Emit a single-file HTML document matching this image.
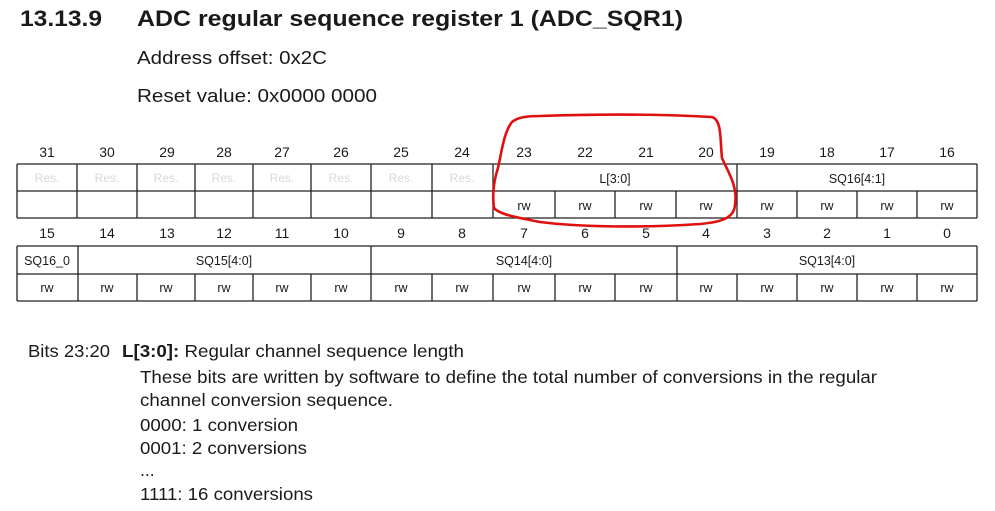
<!DOCTYPE html>
<html><head><meta charset="utf-8"><style>
html,body{margin:0;padding:0;background:#fff;width:995px;height:511px;overflow:hidden}
svg{display:block;font-family:"Liberation Sans",Arial,sans-serif}
</style></head><body>
<svg width="995" height="511" viewBox="0 0 995 511" xmlns="http://www.w3.org/2000/svg">
<g fill="#1a1a1a">
<text x="20" y="26" font-size="22" font-weight="bold" textLength="82" lengthAdjust="spacingAndGlyphs">13.13.9</text>
<text x="137" y="26" font-size="22" font-weight="bold" textLength="546" lengthAdjust="spacingAndGlyphs">ADC regular sequence register 1 (ADC_SQR1)</text>
<text x="137" y="64" font-size="18.5" textLength="190" lengthAdjust="spacingAndGlyphs">Address offset: 0x2C</text>
<text x="137" y="102" font-size="18.5" textLength="240" lengthAdjust="spacingAndGlyphs">Reset value: 0x0000 0000</text>
</g>
<g font-size="14" fill="#1a1a1a" text-anchor="middle">
<text x="47" y="157">31</text><text x="107" y="157">30</text><text x="167" y="157">29</text><text x="224" y="157">28</text>
<text x="282" y="157">27</text><text x="341" y="157">26</text><text x="401" y="157">25</text><text x="462" y="157">24</text>
<text x="524" y="157">23</text><text x="585" y="157">22</text><text x="646" y="157">21</text><text x="706" y="157">20</text>
<text x="767" y="157">19</text><text x="827" y="157">18</text><text x="887" y="157">17</text><text x="947" y="157">16</text>
<text x="47" y="238">15</text><text x="107" y="238">14</text><text x="167" y="238">13</text><text x="224" y="238">12</text>
<text x="282" y="238">11</text><text x="341" y="238">10</text><text x="401" y="238">9</text><text x="462" y="238">8</text>
<text x="524" y="238">7</text><text x="585" y="238">6</text><text x="646" y="238">5</text><text x="706" y="238">4</text>
<text x="767" y="238">3</text><text x="827" y="238">2</text><text x="887" y="238">1</text><text x="947" y="238">0</text>
</g>
<g stroke="#222" stroke-width="1.3" fill="none">
<line x1="17" y1="164" x2="977" y2="164"/><line x1="17" y1="191" x2="977" y2="191"/><line x1="17" y1="218" x2="977" y2="218"/>
<path d="M17 164V218M77 164V218M137 164V218M195 164V218M253 164V218M311 164V218M371 164V218M432 164V218M493 164V218M737 164V218M977 164V218"/>
<path d="M555 191V218M615 191V218M676 191V218M797 191V218M857 191V218M917 191V218"/>
<line x1="17" y1="246" x2="977" y2="246"/><line x1="17" y1="274" x2="977" y2="274"/><line x1="17" y1="301" x2="977" y2="301"/>
<path d="M17 246V301M78 246V301M371 246V301M677 246V301M977 246V301"/>
<path d="M137 274V301M195 274V301M253 274V301M311 274V301M432 274V301M493 274V301M555 274V301M615 274V301M737 274V301M797 274V301M857 274V301M917 274V301"/>
</g>
<g font-size="12" text-anchor="middle" fill="#d8d8d8">
<text x="47" y="182">Res.</text><text x="107" y="182">Res.</text><text x="166" y="182">Res.</text><text x="224" y="182">Res.</text>
<text x="282" y="182">Res.</text><text x="341" y="182">Res.</text><text x="401" y="182">Res.</text><text x="462" y="182">Res.</text>
</g>
<g font-size="12.5" text-anchor="middle" fill="#1a1a1a">
<text x="615" y="183">L[3:0]</text><text x="857" y="183">SQ16[4:1]</text>
<text x="524" y="210">rw</text><text x="585" y="210">rw</text><text x="646" y="210">rw</text><text x="706" y="210">rw</text>
<text x="767" y="210">rw</text><text x="827" y="210">rw</text><text x="887" y="210">rw</text><text x="947" y="210">rw</text>
<text x="47" y="265">SQ16_0</text><text x="224" y="265">SQ15[4:0]</text><text x="524" y="265">SQ14[4:0]</text><text x="827" y="265">SQ13[4:0]</text>
<text x="47" y="292">rw</text><text x="107" y="292">rw</text><text x="166" y="292">rw</text><text x="224" y="292">rw</text>
<text x="282" y="292">rw</text><text x="341" y="292">rw</text><text x="401" y="292">rw</text><text x="462" y="292">rw</text>
<text x="524" y="292">rw</text><text x="585" y="292">rw</text><text x="646" y="292">rw</text><text x="706" y="292">rw</text>
<text x="767" y="292">rw</text><text x="827" y="292">rw</text><text x="887" y="292">rw</text><text x="947" y="292">rw</text>
</g>
<path d="M540 116 C600 114 660 114 712 117 C722 120 720 140 722 158 C728 172 738 186 735 205 C734 218 722 222 700 224 C640 228 580 227 540 222 C520 218 500 215 494 208 C492 195 494 180 498 168 C502 150 504 132 512 122 C518 117 528 116 540 116 Z" fill="none" stroke="#e01010" stroke-width="2.6"/>
<g fill="#1a1a1a" font-size="17.5">
<text x="28" y="357" textLength="82" lengthAdjust="spacingAndGlyphs">Bits 23:20</text>
<text x="122" y="357" textLength="342" lengthAdjust="spacingAndGlyphs"><tspan font-weight="bold">L[3:0]:</tspan> Regular channel sequence length</text>
<text x="140" y="383" textLength="737" lengthAdjust="spacingAndGlyphs">These bits are written by software to define the total number of conversions in the regular</text>
<text x="140" y="406" textLength="253" lengthAdjust="spacingAndGlyphs">channel conversion sequence.</text>
<text x="140" y="431" textLength="158" lengthAdjust="spacingAndGlyphs">0000: 1 conversion</text>
<text x="140" y="454" textLength="167" lengthAdjust="spacingAndGlyphs">0001: 2 conversions</text>
<text x="140" y="476">...</text>
<text x="140" y="500" textLength="173" lengthAdjust="spacingAndGlyphs">1111: 16 conversions</text>
</g>
</svg>
</body></html>
